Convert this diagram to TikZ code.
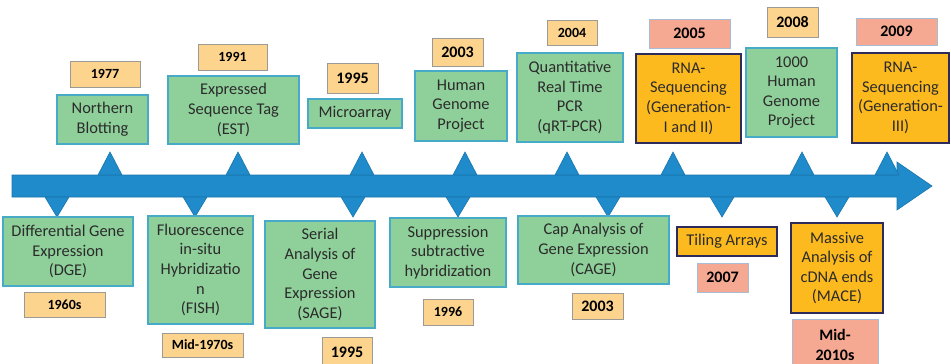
\documentclass[tikz,border=0pt]{standalone}
\usepackage{fontspec}
\setmainfont{Carlito}
\definecolor{tlblue}{HTML}{1F8BCB}
\definecolor{gbox}{HTML}{8FD09A}
\definecolor{gedge}{HTML}{47ABC8}
\definecolor{ybox}{HTML}{FDD48E}
\definecolor{yedge}{HTML}{9C9A96}
\definecolor{sbox}{HTML}{F5A892}
\definecolor{sedge}{HTML}{A9BCD6}
\definecolor{obox}{HTML}{FDBA1E}
\definecolor{oedge}{HTML}{2D2B5C}
\definecolor{ink}{HTML}{2B2B2B}
\begin{document}
\begin{tikzpicture}[x=1pt, y=-1pt,
  ev/.style={draw=gedge, fill=gbox, line width=1.3pt, align=center, inner sep=0pt, text=ink, font=\fontsize{16.4}{19.6}\selectfont},
  ngs/.style={ev, draw=oedge, fill=obox, line width=1.8pt},
  yr/.style={draw=yedge, fill=ybox, line width=1pt, inner sep=0pt, align=center, text=black, font=\fontsize{14}{19}\selectfont\bfseries},
  yrbig/.style={yr, font=\fontsize{16}{20}\selectfont\bfseries},
  yrs/.style={yrbig, draw=sedge, fill=sbox},
  tri/.style={fill=tlblue, draw=tlblue!85!black, line width=0.6pt}]
\useasboundingbox (0,0) rectangle (951,364);
% timeline arrow
\draw[tri] (12,175) -- (897,175) -- (897,162) -- (932,186) -- (897,210) -- (897,197) -- (12,197) -- cycle;
% pointers above
\draw[tri] (98,175) -- (110,152) -- (122,175) -- cycle;
\draw[tri] (226,175) -- (238,152) -- (250,175) -- cycle;
\draw[tri] (350,175) -- (362,152) -- (374,175) -- cycle;
\draw[tri] (453,175) -- (465,152) -- (477,175) -- cycle;
\draw[tri] (555,175) -- (567,152) -- (579,175) -- cycle;
\draw[tri] (661,175) -- (673,152) -- (685,175) -- cycle;
\draw[tri] (790,175) -- (802,152) -- (814,175) -- cycle;
\draw[tri] (875,175) -- (887,152) -- (899,175) -- cycle;
% pointers below
\draw[tri] (45,197) -- (57,217) -- (69,197) -- cycle;
\draw[tri] (183,197) -- (195,217) -- (207,197) -- cycle;
\draw[tri] (341,197) -- (353,217) -- (365,197) -- cycle;
\draw[tri] (446,197) -- (458,217) -- (470,197) -- cycle;
\draw[tri] (596,197) -- (608,217) -- (620,197) -- cycle;
\draw[tri] (710,197) -- (722,217) -- (734,197) -- cycle;
\draw[tri] (825,197) -- (837,217) -- (849,197) -- cycle;
% events above the line
\node[yr, minimum width=70, minimum height=26] (y1977) at (105,74) {1977};
\node[ev, minimum width=91, minimum height=49] (northern) at (102.5,119.5) {Northern\\Blotting};
\node[yr, minimum width=69, minimum height=26] (y1991) at (232.5,57) {1991};
\node[ev, minimum width=131, minimum height=68] (est) at (233.5,110) {Expressed\\Sequence Tag\\(EST)};
\node[yrbig, minimum width=51, minimum height=30] (y1995a) at (352.5,78) {1995};
\node[ev, minimum width=94, minimum height=29] (micro) at (355,113.5) {Microarray};
\node[yrbig, minimum width=51, minimum height=28] (y2003a) at (457.5,52) {2003};
\node[ev, minimum width=92, minimum height=70] (hgp) at (461,106) {Human\\Genome\\Project};
\node[yr, minimum width=50, minimum height=25] (y2004) at (572,32.5) {2004};
\node[ev, minimum width=106, minimum height=89] (qrt) at (570,97.5) {Quantitative\\Real Time\\PCR\\(qRT-PCR)};
\node[yrs, minimum width=81, minimum height=29] (y2005) at (689.5,33.5) {2005};
\node[ngs, minimum width=105, minimum height=89] (rnaone) at (688.5,98.5) {RNA-\\Sequencing\\(Generation-\\I and II)};
\node[yrbig, minimum width=51, minimum height=30] (y2008) at (792.5,22) {2008};
\node[ev, minimum width=91, minimum height=89] (kgp) at (791.5,92.5) {1000\\Human\\Genome\\Project};
\node[yrs, minimum width=81, minimum height=27] (y2009) at (896.5,31.5) {2009};
\node[ngs, minimum width=97, minimum height=90] (rnathree) at (900.5,98) {RNA-\\Sequencing\\(Generation-\\III)};
% events below the line
\node[ev, minimum width=130, minimum height=69] (dge) at (68,251.5) {Differential Gene\\Expression\\(DGE)};
\node[yr, minimum width=81, minimum height=25] (y1960) at (64.5,304.5) {1960s};
\node[ev, minimum width=105, minimum height=108] (fish) at (200.5,270) {Fluorescence\\in-situ\\Hybridizatio\\n\\(FISH)};
\node[yr, minimum width=81, minimum height=24] (y1970) at (202.5,345) {Mid-1970s};
\node[ev, minimum width=110, minimum height=107] (sage) at (320,274.5) {Serial\\Analysis of\\Gene\\Expression\\(SAGE)};
\node[yrbig, minimum width=50, minimum height=30] (y1995b) at (347,352) {1995};
\node[ev, minimum width=116, minimum height=69] (ssh) at (448,252.5) {Suppression\\subtractive\\hybridization};
\node[yr, minimum width=50, minimum height=26] (y1996) at (448,312) {1996};
\node[ev, minimum width=151, minimum height=68] (cage) at (593.5,250) {Cap Analysis of\\Gene Expression\\(CAGE)};
\node[yrbig, minimum width=51, minimum height=26] (y2003b) at (597.5,306) {2003};
\node[ngs, minimum width=100, minimum height=29] (tiling) at (727,241.5) {Tiling Arrays};
\node[yrs, minimum width=51, minimum height=29] (y2007) at (722.5,277.5) {2007};
\node[ngs, minimum width=92, minimum height=90] (mace) at (837,268) {Massive\\Analysis of\\cDNA ends\\(MACE)};
\node[yrs, minimum width=86, minimum height=52] (y2010) at (835,345) {Mid-\\2010s};
\end{tikzpicture}
\end{document}
